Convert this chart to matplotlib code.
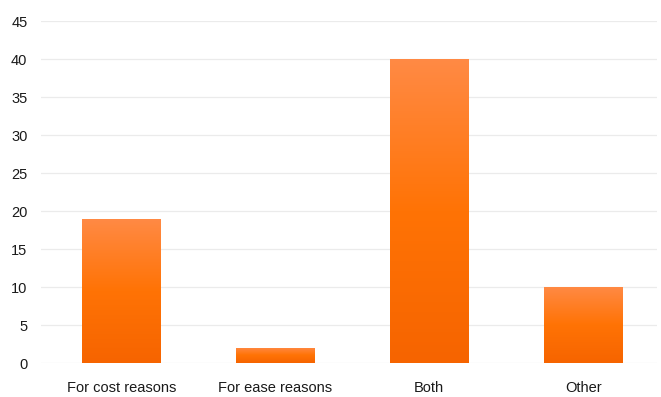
import matplotlib
matplotlib.use('Agg')
import matplotlib.pyplot as plt
import numpy as np
from matplotlib.colors import LinearSegmentedColormap

categories = ['For cost reasons', 'For ease reasons', 'Both', 'Other']
values = [19, 2, 40, 10]
y_ticks = list(range(0, 50, 5))

plt.rcParams['font.family'] = ['Liberation Sans', 'DejaVu Sans']

fig = plt.figure(figsize=(6.61, 3.97), dpi=100)
ax = fig.add_axes([0.0626, 0.0856, 0.9314, 0.8615])

x = np.arange(len(categories))
bars = ax.bar(x, values, width=0.51, color='#FF7A1A', zorder=2)

# orange gradient on each bar, lighter at the top
grad = LinearSegmentedColormap.from_list('orange', ['#F66400', '#FF7305', '#FF8A45'])
ramp = np.linspace(0, 1, 256).reshape(-1, 1)
for bar, v in zip(bars, values):
    x0 = bar.get_x()
    w = bar.get_width()
    im = ax.imshow(ramp, cmap=grad, origin='lower', aspect='auto',
                   extent=[x0, x0 + w, 0, v], zorder=3)
    im.set_clip_path(bar)

ax.set_xlim(-0.52, 3.48)
ax.set_ylim(0, 45)
ax.set_yticks(y_ticks)
ax.set_xticks(x)
ax.set_xticklabels(categories)
ax.yaxis.grid(True, color='#EBEBEB', linewidth=0.9, zorder=0)
ax.set_axisbelow(True)
for s in ax.spines.values():
    s.set_visible(False)
ax.tick_params(axis='both', length=0, labelsize=10.5, colors='#1A1A1A')
ax.tick_params(axis='y', pad=10)
ax.tick_params(axis='x', pad=13)

fig.savefig('out.png', dpi=100)
